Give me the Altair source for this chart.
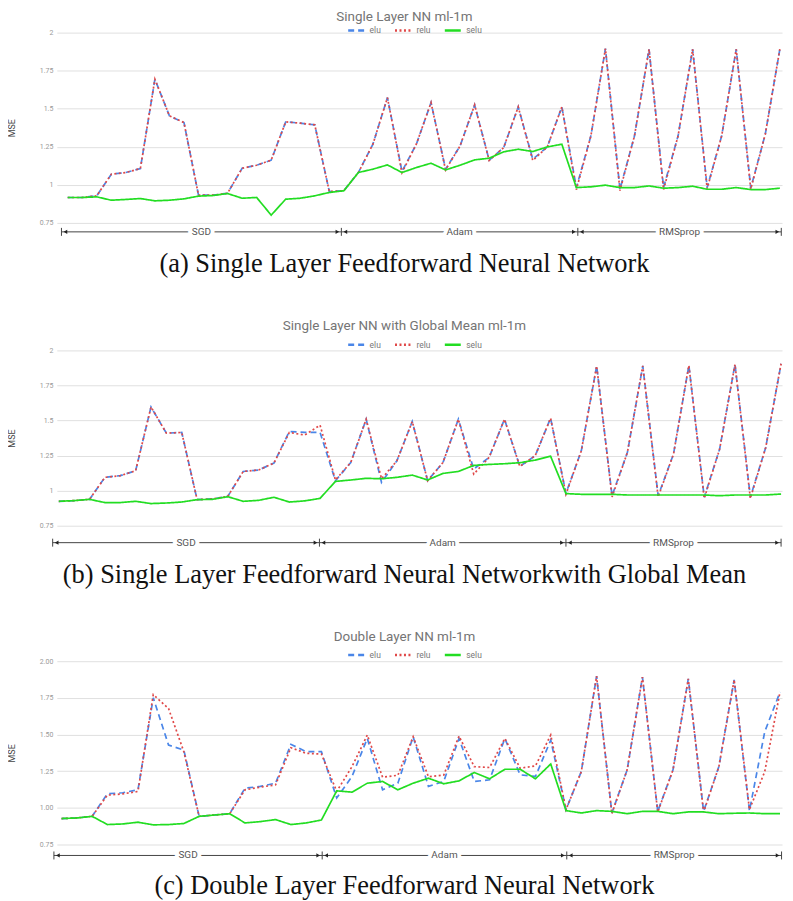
import altair as alt
import pandas as pd

SERIES = ["elu", "relu", "selu"]
COLORS = ["#4a86e8", "#e04848", "#22dd22"]
DASHES = [[6, 4], [2, 2.5], [1, 0]]
SEGMENTS = ["SGD", "Adam", "RMSprop"]

# ---------- panel (a) ----------
A_TITLE = "Single Layer NN ml-1m"
A_CAPTION = "(a) Single Layer Feedforward Neural Network"
A_ELU = [0.917, 0.917, 0.928, 1.070, 1.081, 1.107, 1.694, 1.453, 1.409, 0.932,
         0.932, 0.945, 1.109, 1.129, 1.162, 1.414, 1.405, 1.394, 0.956, 0.961,
         1.081, 1.267, 1.573, 1.088, 1.270, 1.540, 1.103, 1.256, 1.525, 1.162,
         1.245, 1.512, 1.168, 1.249, 1.512, 0.982, 1.322, 1.895, 0.971, 1.322,
         1.891, 0.982, 1.322, 1.891, 0.982, 1.322, 1.891, 0.978, 1.333, 1.891]
A_RELU = [0.917, 0.917, 0.928, 1.070, 1.081, 1.107, 1.694, 1.453, 1.409, 0.932,
          0.932, 0.945, 1.109, 1.129, 1.162, 1.414, 1.405, 1.394, 0.956, 0.961,
          1.081, 1.267, 1.573, 1.080, 1.270, 1.540, 1.098, 1.256, 1.525, 1.160,
          1.245, 1.512, 1.160, 1.249, 1.512, 0.968, 1.322, 1.895, 0.962, 1.322,
          1.891, 0.968, 1.322, 1.891, 0.975, 1.322, 1.891, 0.972, 1.333, 1.891]
A_SELU = [0.917, 0.917, 0.921, 0.899, 0.904, 0.910, 0.895, 0.899, 0.908, 0.926,
          0.930, 0.943, 0.912, 0.917, 0.801, 0.906, 0.912, 0.928, 0.950, 0.961,
          1.081, 1.103, 1.131, 1.081, 1.114, 1.142, 1.098, 1.129, 1.164, 1.175,
          1.217, 1.234, 1.219, 1.249, 1.267, 0.982, 0.987, 0.998, 0.982, 0.982,
          0.993, 0.978, 0.982, 0.991, 0.971, 0.971, 0.982, 0.969, 0.969, 0.978]
A_BOUNDS = [-0.43, 18.83, 35.1, 49.1]
A_XDOMAIN = [-0.75, 49.15]

# ---------- panel (b) ----------
B_TITLE = "Single Layer NN with Global Mean  ml-1m"
B_CAPTION = "(b) Single Layer Feedforward Neural Networkwith Global Mean"
B_ELU = [0.924, 0.929, 0.938, 1.095, 1.107, 1.142, 1.597, 1.410, 1.415, 0.936,
         0.941, 0.960, 1.137, 1.147, 1.197, 1.422, 1.415, 1.415, 1.071, 1.201,
         1.509, 1.059, 1.213, 1.493, 1.071, 1.201, 1.509, 1.154, 1.237, 1.509,
         1.173, 1.249, 1.517, 0.981, 1.284, 1.889, 0.964, 1.273, 1.889, 0.964,
         1.261, 1.893, 0.953, 1.296, 1.900, 0.953, 1.308, 1.905]
B_RELU = [0.924, 0.929, 0.938, 1.095, 1.107, 1.142, 1.597, 1.410, 1.415, 0.936,
          0.941, 0.960, 1.137, 1.147, 1.197, 1.415, 1.396, 1.467, 1.076, 1.201,
          1.509, 1.085, 1.213, 1.493, 1.071, 1.201, 1.509, 1.118, 1.237, 1.509,
          1.173, 1.249, 1.517, 0.975, 1.284, 1.889, 0.955, 1.273, 1.889, 0.955,
          1.261, 1.893, 0.945, 1.296, 1.900, 0.945, 1.308, 1.905]
B_SELU = [0.924, 0.929, 0.938, 0.915, 0.915, 0.924, 0.908, 0.912, 0.919, 0.936,
          0.938, 0.957, 0.924, 0.931, 0.953, 0.919, 0.927, 0.945, 1.066, 1.076,
          1.088, 1.085, 1.095, 1.111, 1.076, 1.123, 1.137, 1.180, 1.187, 1.192,
          1.199, 1.218, 1.246, 0.979, 0.974, 0.974, 0.974, 0.969, 0.969, 0.969,
          0.969, 0.969, 0.969, 0.964, 0.969, 0.969, 0.969, 0.976]
B_BOUNDS = [-0.4, 16.96, 33.0, 47.0]
B_XDOMAIN = [-0.13, 47.06]

# ---------- panel (c) ----------
C_TITLE = "Double Layer NN ml-1m"
C_CAPTION = "(c) Double Layer Feedforward Neural Network"
C_ELU = [0.927, 0.931, 0.942, 1.096, 1.103, 1.123, 1.750, 1.428, 1.394, 0.942,
         0.951, 0.960, 1.134, 1.146, 1.168, 1.433, 1.383, 1.383, 1.067, 1.214,
         1.473, 1.123, 1.168, 1.485, 1.146, 1.180, 1.473, 1.180, 1.191, 1.473,
         1.225, 1.214, 1.462, 0.988, 1.247, 1.898, 0.965, 1.259, 1.892, 0.976,
         1.259, 1.880, 0.976, 1.281, 1.873, 0.980, 1.519, 1.790]
C_RELU = [0.927, 0.931, 0.942, 1.087, 1.095, 1.112, 1.772, 1.677, 1.383, 0.942,
          0.951, 0.960, 1.123, 1.141, 1.157, 1.410, 1.372, 1.367, 1.112, 1.281,
          1.496, 1.209, 1.222, 1.485, 1.212, 1.223, 1.489, 1.281, 1.275, 1.473,
          1.270, 1.286, 1.496, 0.988, 1.247, 1.898, 0.960, 1.259, 1.892, 0.970,
          1.259, 1.880, 0.970, 1.281, 1.873, 0.988, 1.247, 1.790]
C_SELU = [0.927, 0.931, 0.942, 0.886, 0.890, 0.902, 0.884, 0.886, 0.893, 0.942,
          0.951, 0.960, 0.897, 0.906, 0.920, 0.886, 0.897, 0.917, 1.116, 1.107,
          1.168, 1.180, 1.123, 1.168, 1.202, 1.164, 1.184, 1.241, 1.198, 1.263,
          1.263, 1.198, 1.299, 0.981, 0.965, 0.981, 0.976, 0.960, 0.976, 0.976,
          0.960, 0.972, 0.972, 0.960, 0.963, 0.965, 0.960, 0.960]
C_BOUNDS = [-0.5, 17.05, 33.05, 47.1]
C_XDOMAIN = [-0.31, 47.13]

TICKS = [0.75, 1.0, 1.25, 1.5, 1.75, 2.0]
W = 728


def panel(title, caption, elu, relu, selu, bounds, xdom, H, fmt,
          title_dy, legend_y, arrow_dy, caption_dy):
    n = len(elu)
    df = pd.DataFrame({
        "idx": list(range(n)) * 3,
        "act": ["elu"] * n + ["relu"] * n + ["selu"] * n,
        "mse": elu + relu + selu,
    })
    xs = alt.Scale(domain=xdom, nice=False, zero=False)
    leg = alt.Legend(orient="none", legendX=291, legendY=legend_y,
                     direction="horizontal", title=None, symbolType="stroke",
                     symbolSize=256, symbolStrokeWidth=2.5, labelFontSize=8.5,
                     labelColor="#777777", labelFont="Roboto", columnPadding=8,
                     labelOffset=4, padding=0)
    lines = alt.Chart(df).mark_line(strokeWidth=1.7).encode(
        x=alt.X("idx:Q", scale=xs, axis=None),
        y=alt.Y("mse:Q", scale=alt.Scale(domain=[0.75, 2.0], nice=False, zero=False),
                axis=alt.Axis(values=TICKS, format=fmt, title="MSE", grid=True,
                              ticks=False, domain=False, labelFontSize=7,
                              labelFont="Roboto", labelColor="#999999",
                              labelPadding=4, minExtent=21, titlePadding=19,
                              titleFontSize=9, titleFont="Roboto",
                              titleFontWeight="normal", titleColor="#444444",
                              gridColor="#e0e0e0", gridWidth=1)),
        color=alt.Color("act:N", scale=alt.Scale(domain=SERIES, range=COLORS), legend=leg),
        strokeDash=alt.StrokeDash("act:N", scale=alt.Scale(domain=SERIES, range=DASHES), legend=leg),
    )

    seg = pd.DataFrame({"label": SEGMENTS, "start": bounds[:-1], "end": bounds[1:]})
    seg["mid"] = (seg["start"] + seg["end"]) / 2
    bars = pd.DataFrame({"b": bounds})
    ya = H + arrow_dy

    rule = alt.Chart(seg).mark_rule(color="#444444", strokeWidth=1).encode(
        x=alt.X("start:Q", scale=xs, axis=None), x2="end:Q", y=alt.value(ya))
    lefth = alt.Chart(seg).mark_point(shape="triangle-left", filled=True, size=18,
                                      color="#222222", opacity=1, xOffset=4).encode(
        x=alt.X("start:Q", scale=xs, axis=None), y=alt.value(ya))
    righth = alt.Chart(seg).mark_point(shape="triangle-right", filled=True, size=18,
                                       color="#222222", opacity=1, xOffset=-4).encode(
        x=alt.X("end:Q", scale=xs, axis=None), y=alt.value(ya))
    barm = alt.Chart(bars).mark_rule(color="#444444", strokeWidth=1).encode(
        x=alt.X("b:Q", scale=xs, axis=None), y=alt.value(ya - 4), y2=alt.value(ya + 4))
    halo = alt.Chart(seg).mark_text(fontSize=10, font="Roboto", color="white",
                                    stroke="white", strokeWidth=8).encode(
        x=alt.X("mid:Q", scale=xs, axis=None), y=alt.value(ya), text="label:N")
    lab = alt.Chart(seg).mark_text(fontSize=10, font="Roboto", color="#555555").encode(
        x=alt.X("mid:Q", scale=xs, axis=None), y=alt.value(ya), text="label:N")

    ttl = alt.Chart(pd.DataFrame({"t": [title]})).mark_text(
        fontSize=13.5, font="Roboto", color="#757575").encode(
        text="t:N", x=alt.value(W / 2 - 15), y=alt.value(title_dy))
    cap = alt.Chart(pd.DataFrame({"t": [caption]})).mark_text(
        fontSize=26.5, font="Liberation Serif", color="#111111").encode(
        text="t:N", x=alt.value(W / 2 - 15), y=alt.value(H + caption_dy))

    return alt.layer(lines, rule, lefth, righth, barm, halo, lab, ttl, cap).properties(
        width=W, height=H)


pa = panel(A_TITLE, A_CAPTION, A_ELU, A_RELU, A_SELU, A_BOUNDS, A_XDOMAIN, 191, ".2~f",
           -16, -12, 9, 41)
pb = panel(B_TITLE, B_CAPTION, B_ELU, B_RELU, B_SELU, B_BOUNDS, B_XDOMAIN, 176, ".2~f",
           -24, -15.5, 17, 49)
pc = panel(C_TITLE, C_CAPTION, C_ELU, C_RELU, C_SELU, C_BOUNDS, C_XDOMAIN, 184, ".2f",
           -24, -16, 11, 42)

chart = alt.vconcat(pa, pb, pc, spacing=42).resolve_scale(
    x="independent", y="independent", color="independent", strokeDash="independent"
).properties(padding=0, background="white").configure_view(stroke=None)

chart.save("out.html", embed_options={"renderer": "svg", "actions": False})
